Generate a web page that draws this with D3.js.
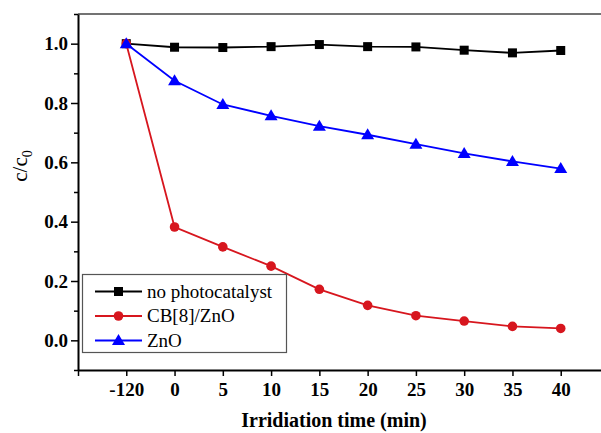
<!DOCTYPE html>
<html><head><meta charset="utf-8">
<script src="https://cdn.jsdelivr.net/npm/d3@7"></script>
<style>body{margin:0;background:#fff}svg{display:block}
svg text{font-family:"Liberation Serif","Times New Roman",serif !important;}</style>
</head><body>
<svg id="c" width="601" height="433"></svg>
<script>
const categories = ["-120","0","5","10","15","20","25","30","35","40"];
const noPhoto = [1.0,0.988,0.987,0.990,0.997,0.990,0.989,0.978,0.969,0.977];
const cbZnO   = [1.0,0.382,0.315,0.250,0.172,0.118,0.083,0.065,0.047,0.040];
const znO     = [1.0,0.875,0.795,0.757,0.722,0.693,0.661,0.630,0.603,0.579];
const yMajor = [0.0,0.2,0.4,0.6,0.8,1.0];
const yMinor = [-0.1,0.1,0.3,0.5,0.7,0.9,1.1];
const seriesNames = ["no photocatalyst","CB[8]/ZnO","ZnO"];

const svg = d3.select("#c");
const L=78, R=609, T=14, B=370;
const x = d3.scaleLinear().domain([-1,10]).range([L,R]);
const y = d3.scaleLinear().domain([-0.1,1.1]).range([B,T]);

// frame top
svg.append("line").attr("x1",L).attr("x2",R).attr("y1",T).attr("y2",T).attr("stroke","#444").attr("stroke-width",1.5);

// y axis
const yAx = svg.append("g").attr("transform",`translate(${L},0)`)
  .call(d3.axisLeft(y).tickValues(yMajor).tickFormat(d3.format(".1f")).tickSize(7).tickSizeOuter(0));
yAx.attr("font-family",null);
yAx.select(".domain").attr("stroke","#000").attr("stroke-width",2);
yAx.selectAll(".tick line").attr("stroke-width",1.5);
yAx.selectAll("text").attr("font-weight","bold").attr("font-size",19).attr("fill","#000").attr("x",-10);
svg.append("g").attr("transform",`translate(${L},0)`)
  .call(d3.axisLeft(y).tickValues(yMinor).tickFormat("").tickSize(4).tickSizeOuter(0))
  .call(g=>{g.select(".domain").remove(); g.selectAll("line").attr("stroke-width",1.5);});

// x axis
const xAx = svg.append("g").attr("transform",`translate(0,${B})`)
  .call(d3.axisBottom(x).tickValues(d3.range(-1,11)).tickFormat(i => (i>=0 && i<categories.length) ? categories[i] : "").tickSize(6).tickSizeOuter(0));
xAx.attr("font-family",null);
xAx.select(".domain").attr("stroke","#000").attr("stroke-width",2);
xAx.selectAll(".tick line").attr("stroke-width",1.5);
xAx.selectAll("text").attr("font-weight","bold").attr("font-size",19).attr("fill","#000").attr("y",13);

// axis titles
svg.append("text").attr("x",334).attr("y",427).attr("text-anchor","middle")
  .attr("font-weight","bold").attr("font-size",20).text("Irridiation time (min)");
const yl = svg.append("text").attr("transform","translate(27,166) rotate(-90)").attr("text-anchor","middle")
  .attr("font-size",21);
yl.append("tspan").text("c/c");
yl.append("tspan").attr("font-size",14).attr("dy",5).text("0");

const series = [
  {name:seriesNames[0], vals:noPhoto, color:"#000000", shape:"square"},
  {name:seriesNames[1], vals:cbZnO, color:"#d7161e", shape:"circle"},
  {name:seriesNames[2], vals:znO, color:"#0000ff", shape:"triangle"}
];
function marker(g, s, cx, cy){
  if(s.shape==="square") g.append("rect").attr("x",cx-4.5).attr("y",cy-4.5).attr("width",9).attr("height",9).attr("fill",s.color);
  else if(s.shape==="circle") g.append("circle").attr("cx",cx).attr("cy",cy).attr("r",4.8).attr("fill",s.color);
  else g.append("path").attr("d",`M${cx},${cy-6.5}L${cx+6.5},${cy+4.5}L${cx-6.5},${cy+4.5}Z`).attr("fill",s.color);
}
series.forEach(s=>{
  const line = d3.line().x((d,i)=>x(i)).y(d=>y(d));
  svg.append("path").attr("d",line(s.vals)).attr("fill","none").attr("stroke",s.color).attr("stroke-width",1.8);
  const g = svg.append("g");
  s.vals.forEach((v,i)=>marker(g,s,x(i),y(v)));
});

// legend
const lg = svg.append("g");
lg.append("rect").attr("x",82.5).attr("y",274.5).attr("width",204).attr("height",78)
  .attr("fill","#fff").attr("stroke","#555").attr("stroke-width",1.2);
series.forEach((s,k)=>{
  const cy = 291.5 + k*24.5;
  lg.append("line").attr("x1",95).attr("x2",142).attr("y1",cy).attr("y2",cy).attr("stroke",s.color).attr("stroke-width",1.8);
  marker(lg,s,118.5,cy);
  lg.append("text").attr("x",147).attr("y",cy).attr("dy","0.33em").attr("font-size",19).text(s.name);
});
</script>
</body></html>
